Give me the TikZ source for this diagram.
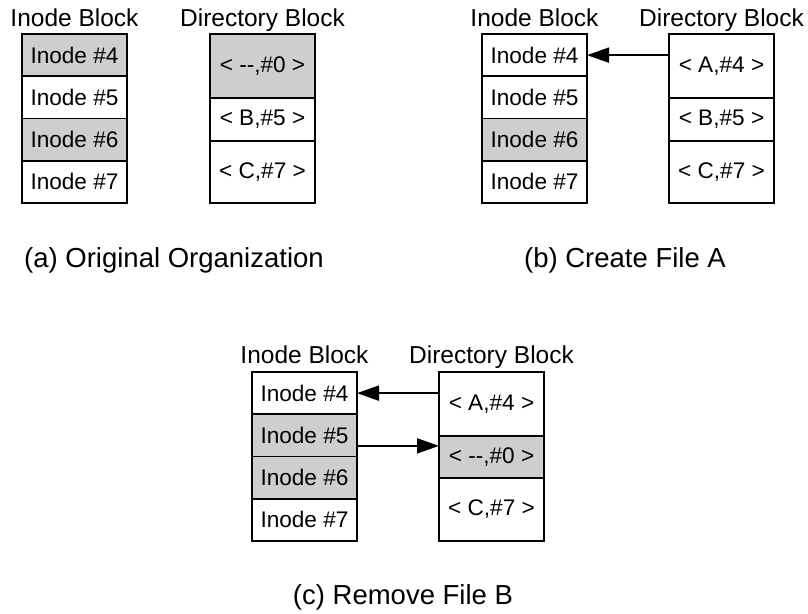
\documentclass[tikz,border=0pt]{standalone}
\usepackage{fontspec}
\setmainfont{Liberation Sans}
\usetikzlibrary{arrows.meta}
\definecolor{cellgray}{RGB}{206,206,206}
\begin{document}
\begin{tikzpicture}[x=1pt,y=-1pt,
  cell/.style={draw=black, line width=1.9pt, minimum width=105pt, inner sep=0pt, outer sep=0pt,
    font=\fontsize{22.6}{26}\selectfont},
  shade/.style={fill=cellgray},
  title/.style={anchor=base, font=\fontsize{24.5}{28}\selectfont, inner sep=0pt},
  caption/.style={anchor=base, font=\fontsize{27.5}{32}\selectfont, inner sep=0pt},
  arr/.style={line width=1.9pt, -{Triangle[length=22pt,width=15pt]}}]
\useasboundingbox (0,0) rectangle (808,613);

% ---------- (a) ----------
\node[title] (at1) at (74.5,27) {Inode Block};
\node[title] (at2) at (262.5,27) {Directory Block};
\node[cell,shade,minimum height=42.25pt] (ai4) at (74.5,55.125) {Inode \#4};
\node[cell,minimum height=42.25pt] (ai5) at (74.5,97.375) {Inode \#5};
\node[cell,shade,minimum height=42.25pt] (ai6) at (74.5,139.625) {Inode \#6};
\node[cell,minimum height=42.25pt] (ai7) at (74.5,181.875) {Inode \#7};
\node[cell,shade,minimum height=64pt] (ad0) at (262.5,66) {< -{}-,\#0 >};
\node[cell,minimum height=43pt] (adB) at (262.5,119.5) {< B,\#5 >};
\node[cell,minimum height=62pt] (adC) at (262.5,172) {< C,\#7 >};
\node[caption] (acap) at (174,267) {(a) Original Organization};

% ---------- (b) ----------
\node[title] (bt1) at (534.5,27) {Inode Block};
\node[title] (bt2) at (721.5,27) {Directory Block};
\node[cell,minimum height=42.25pt] (bi4) at (534.5,55.125) {Inode \#4};
\node[cell,minimum height=42.25pt] (bi5) at (534.5,97.375) {Inode \#5};
\node[cell,shade,minimum height=42.25pt] (bi6) at (534.5,139.625) {Inode \#6};
\node[cell,minimum height=42.25pt] (bi7) at (534.5,181.875) {Inode \#7};
\node[cell,minimum height=64pt] (bdA) at (721.5,66) {< A,\#4 >};
\node[cell,minimum height=43pt] (bdB) at (721.5,119.5) {< B,\#5 >};
\node[cell,minimum height=62pt] (bdC) at (721.5,172) {< C,\#7 >};
\node[caption] (bcap) at (625,267) {(b) Create File A};
\draw[arr] (bdA.west |- bi4.east) -- (bi4.east);

% ---------- (c) ----------
\node[title] (ct1) at (304.5,363) {Inode Block};
\node[title] (ct2) at (491.5,363) {Directory Block};
\node[cell,minimum height=42.25pt] (ci4) at (304.5,393.125) {Inode \#4};
\node[cell,shade,minimum height=42.25pt] (ci5) at (304.5,435.375) {Inode \#5};
\node[cell,shade,minimum height=42.25pt] (ci6) at (304.5,477.625) {Inode \#6};
\node[cell,minimum height=42.25pt] (ci7) at (304.5,519.875) {Inode \#7};
\node[cell,minimum height=64pt] (cdA) at (491.5,404) {< A,\#4 >};
\node[cell,shade,minimum height=42pt] (cd0) at (491.5,457) {< -{}-,\#0 >};
\node[cell,minimum height=63pt] (cdC) at (491.5,509.5) {< C,\#7 >};
\node[caption] (ccap) at (403,604) {(c) Remove File B};
\draw[arr] (cdA.west |- ci4.east) -- (ci4.east);
\coordinate (c2s) at ([yshift=-10.5pt]ci5.east);
\draw[arr] (c2s) -- (c2s -| cd0.west);
\end{tikzpicture}
\end{document}
